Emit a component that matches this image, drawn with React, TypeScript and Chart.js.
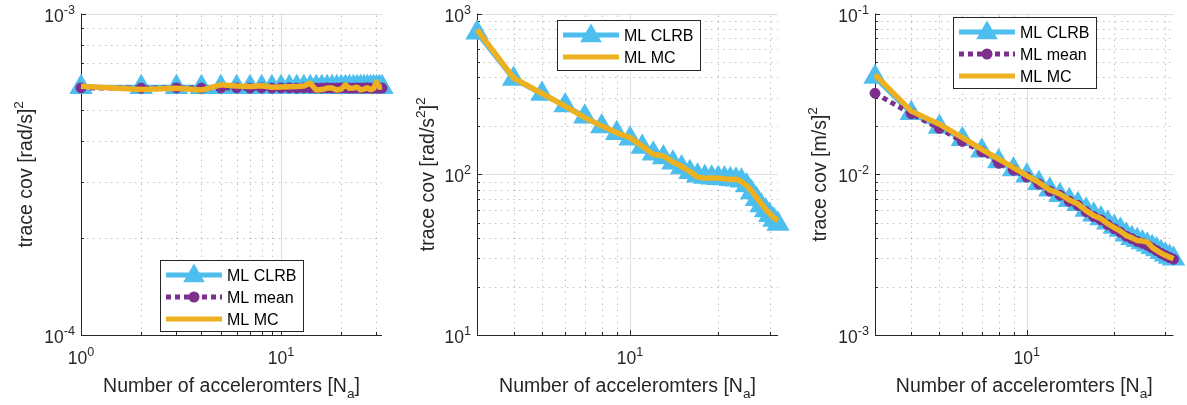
import React, { useEffect, useRef } from "react";
import { Chart, registerables } from "chart.js";

Chart.register(...registerables);

const W = 1187;
const H = 405;
const FONT = "'Liberation Sans', Arial, Helvetica, sans-serif";

// ---------- data ----------
const accelCountsAll = [1, 2, 3, 4, 5, 6, 7, 8, 9, 10, 11, 12, 13, 14, 15, 16, 17, 18, 19, 20, 21, 22, 23, 24, 25, 26, 27, 28, 29, 30, 31, 32];
const accelCountsFrom3 = [3, 4, 5, 6, 7, 8, 9, 10, 11, 12, 13, 14, 15, 16, 17, 18, 19, 20, 21, 22, 23, 24, 25, 26, 27, 28, 29, 30, 31, 32];

// panel 1: angular velocity, trace cov [rad/s]^2
const gyroClrb = [5.9e-4, 5.9e-4, 5.9e-4, 5.9e-4, 5.9e-4, 5.9e-4, 5.9e-4, 5.9e-4, 5.9e-4, 5.9e-4, 5.9e-4, 5.9e-4, 5.9e-4, 5.9e-4, 5.9e-4, 5.9e-4, 5.9e-4, 5.9e-4, 5.9e-4, 5.9e-4, 5.9e-4, 5.9e-4, 5.9e-4, 5.9e-4, 5.9e-4, 5.9e-4, 5.9e-4, 5.9e-4, 5.9e-4, 5.9e-4, 5.9e-4, 5.9e-4];
const gyroMean = [5.87e-4, 5.86e-4, 5.87e-4, 5.86e-4, 5.87e-4, 5.87e-4, 5.86e-4, 5.87e-4, 5.86e-4, 5.87e-4, 5.87e-4, 5.86e-4, 5.87e-4, 5.87e-4, 5.86e-4, 5.86e-4, 5.87e-4, 5.86e-4, 5.86e-4, 5.87e-4, 5.87e-4, 5.86e-4, 5.86e-4, 5.87e-4, 5.86e-4, 5.86e-4, 5.87e-4, 5.86e-4, 5.86e-4, 5.87e-4, 5.86e-4, 5.86e-4];
const gyroMc = [5.94e-4, 5.80e-4, 5.85e-4, 5.78e-4, 6.0e-4, 5.95e-4, 5.93e-4, 5.96e-4, 5.9e-4, 5.91e-4, 5.92e-4, 5.93e-4, 5.95e-4, 6.07e-4, 5.78e-4, 5.8e-4, 5.86e-4, 5.87e-4, 5.78e-4, 5.82e-4, 6.0e-4, 5.85e-4, 5.86e-4, 5.9e-4, 5.79e-4, 5.82e-4, 5.88e-4, 5.8e-4, 5.84e-4, 6.12e-4, 5.9e-4, 5.92e-4];

// panel 2: angular acceleration, trace cov [rad/s^2]^2
const angAccClrb = [760, 392, 316, 268, 228, 198, 180, 166, 148, 134, 127, 118, 110, 103, 98, 96, 95, 94.5, 94, 93, 92.5, 91, 85, 77, 70, 64, 59.5, 55.5, 52, 49];
const angAccMc = [793, 397, 318, 265, 225, 200, 181, 169, 150, 133, 130, 119, 112, 104, 96, 94.6, 94.8, 94.6, 93.7, 92.9, 93.5, 90, 85, 78.7, 71.8, 65.9, 60.8, 56.7, 53.6, 51.5];

// panel 3: specific force, trace cov [m/s]^2
const accClrb = [0.0402, 0.024, 0.0197, 0.0165, 0.014, 0.012, 0.0107, 0.0098, 0.0088, 0.008, 0.0074, 0.0069, 0.0065, 0.006, 0.0056, 0.0053, 0.005, 0.0047, 0.0045, 0.0042, 0.004, 0.00388, 0.00376, 0.00364, 0.00352, 0.0034, 0.00327, 0.00316, 0.00306, 0.00298];
const accMean = [0.0319, 0.0238, 0.0193, 0.016, 0.0138, 0.0117, 0.0106, 0.0096, 0.0087, 0.00785, 0.0074, 0.0068, 0.0064, 0.00585, 0.00545, 0.0052, 0.00485, 0.00458, 0.00436, 0.00412, 0.00397, 0.00382, 0.00372, 0.00362, 0.00348, 0.00334, 0.00322, 0.00312, 0.00303, 0.00296];
const accMc = [0.0417, 0.0247, 0.0205, 0.0169, 0.0143, 0.0124, 0.011, 0.0098, 0.00889, 0.00798, 0.00754, 0.00692, 0.00653, 0.00594, 0.00553, 0.00528, 0.00492, 0.00465, 0.00443, 0.00416, 0.00402, 0.00387, 0.00384, 0.00378, 0.00352, 0.00336, 0.00323, 0.00313, 0.00305, 0.00298];

// ---------- ticks / labels ----------
const p1XRange = [1, 32];
const p1YRange = [1e-4, 1e-3];
const p1XMajor = [1, 10];
const p1XMinor = [2, 3, 4, 5, 6, 7, 8, 9, 20, 30];
const p1YMajor = [1e-4, 1e-3];
const p1YMinor = [2e-4, 3e-4, 4e-4, 5e-4, 6e-4, 7e-4, 8e-4, 9e-4];
const p1XTickExps = ["0", "1"];
const p1YTickExps = ["-4", "-3"];

const p23XRange = [3, 32];
const p23XMajor = [10];
const p23XMinor = [4, 5, 6, 7, 8, 9, 20, 30];
const p23XTickExps = ["1"];

const p2YRange = [10, 1000];
const p2YMajor = [10, 100, 1000];
const p2YMinor = [20, 30, 40, 50, 60, 70, 80, 90, 200, 300, 400, 500, 600, 700, 800, 900];
const p2YTickExps = ["1", "2", "3"];

const p3YRange = [1e-3, 1e-1];
const p3YMajor = [1e-3, 1e-2, 1e-1];
const p3YMinor = [2e-3, 3e-3, 4e-3, 5e-3, 6e-3, 7e-3, 8e-3, 9e-3, 2e-2, 3e-2, 4e-2, 5e-2, 6e-2, 7e-2, 8e-2, 9e-2];
const p3YTickExps = ["-3", "-2", "-1"];

const legendNames = ["ML CLRB", "ML mean", "ML MC"];
const xTitleText = ["Number of acceleromters [N", "a", "]"];

const BLUE = "#4DBEEE";
const PURPLE = "#7E2F8E";
const ORANGE = "#EDB120";
const AXIS = "#262626";

type Seg = { t: string; s?: "sup" | "sub" };

function drawRich(ctx: CanvasRenderingContext2D, segs: Seg[], x: number, y: number, size: number, align: "left" | "center" | "right", ratio = 0.7) {
  const small = size * ratio;
  const widths = segs.map((sg) => {
    ctx.font = `${sg.s ? small : size}px ${FONT}`;
    return ctx.measureText(sg.t).width;
  });
  const total = widths.reduce((a, b) => a + b, 0);
  let cx = align === "center" ? x - total / 2 : align === "right" ? x - total : x;
  ctx.textAlign = "left";
  ctx.textBaseline = "alphabetic";
  segs.forEach((sg, i) => {
    ctx.font = `${sg.s ? small : size}px ${FONT}`;
    const dy = sg.s === "sup" ? -size * 0.45 : sg.s === "sub" ? size * 0.3 : 0;
    ctx.fillText(sg.t, cx, y + dy);
    cx += widths[i];
  });
}

function drawTriangle(ctx: CanvasRenderingContext2D, x: number, y: number, r: number) {
  ctx.beginPath();
  for (let k = 0; k < 3; k++) {
    const a = (k * 2 * Math.PI) / 3;
    const px = x + Math.sin(a) * r;
    const py = y - Math.cos(a) * r;
    if (k === 0) ctx.moveTo(px, py);
    else ctx.lineTo(px, py);
  }
  ctx.closePath();
  ctx.fill();
}

interface PanelCfg {
  area: { left: number; right: number; top: number; bottom: number };
  xRange: number[];
  yRange: number[];
  xMajor: number[];
  xMinor: number[];
  yMajor: number[];
  yMinor: number[];
  xTickVals: number[];
  xTickExps: string[];
  yTickVals: number[];
  yTickExps: string[];
  yTitle: Seg[];
  yTitleX: number;
  legend: { x: number; y: number; entries: number[] };
  xs: number[];
  clrb: number[];
  mean: number[] | null;
  mc: number[];
}

const panels: PanelCfg[] = [
  {
    area: { left: 81, right: 382, top: 12, bottom: 335 },
    xRange: p1XRange, yRange: p1YRange,
    xMajor: p1XMajor, xMinor: p1XMinor, yMajor: p1YMajor, yMinor: p1YMinor,
    xTickVals: p1XMajor, xTickExps: p1XTickExps, yTickVals: p1YMajor, yTickExps: p1YTickExps,
    yTitle: [{ t: "trace cov [rad/s]" }, { t: "2", s: "sup" }],
    yTitleX: 32,
    legend: { x: 160, y: 260, entries: [0, 1, 2] },
    xs: accelCountsAll, clrb: gyroClrb, mean: gyroMean, mc: gyroMc,
  },
  {
    area: { left: 477, right: 778, top: 12, bottom: 335 },
    xRange: p23XRange, yRange: p2YRange,
    xMajor: p23XMajor, xMinor: p23XMinor, yMajor: p2YMajor, yMinor: p2YMinor,
    xTickVals: p23XMajor, xTickExps: p23XTickExps, yTickVals: p2YMajor, yTickExps: p2YTickExps,
    yTitle: [{ t: "trace cov [rad/s" }, { t: "2", s: "sup" }, { t: "]" }, { t: "2", s: "sup" }],
    yTitleX: 433.5,
    legend: { x: 557, y: 20, entries: [0, 2] },
    xs: accelCountsFrom3, clrb: angAccClrb, mean: null, mc: angAccMc,
  },
  {
    area: { left: 875, right: 1176, top: 12, bottom: 335 },
    xRange: p23XRange, yRange: p3YRange,
    xMajor: p23XMajor, xMinor: p23XMinor, yMajor: p3YMajor, yMinor: p3YMinor,
    xTickVals: p23XMajor, xTickExps: p23XTickExps, yTickVals: p3YMajor, yTickExps: p3YTickExps,
    yTitle: [{ t: "trace cov [m/s]" }, { t: "2", s: "sup" }],
    yTitleX: 825.5,
    legend: { x: 953, y: 17, entries: [0, 1, 2] },
    xs: accelCountsFrom3, clrb: accClrb, mean: accMean, mc: accMc,
  },
];

function makePlugin(cfg: PanelCfg) {
  return {
    id: "matlabAxes",
    beforeDatasetsDraw(chart: any) {
      const ctx: CanvasRenderingContext2D = chart.ctx;
      const xs = chart.scales.x;
      const ys = chart.scales.y;
      const { left, right, top, bottom } = chart.chartArea;
      ctx.save();
      // minor grid (dotted)
      ctx.lineWidth = 1;
      ctx.strokeStyle = "rgba(60,60,60,0.32)";
      ctx.setLineDash([1.5, 4.5]);
      cfg.xMinor.forEach((v) => {
        const px = Math.round(xs.getPixelForValue(v)) + 0.5;
        if (px <= left + 1 || px > right + 1) return;
        ctx.beginPath(); ctx.moveTo(px, bottom); ctx.lineTo(px, top); ctx.stroke();
      });
      cfg.yMinor.forEach((v) => {
        const py = Math.round(ys.getPixelForValue(v)) + 0.5;
        if (py >= bottom - 1 || py < top - 1) return;
        ctx.beginPath(); ctx.moveTo(left, py); ctx.lineTo(right, py); ctx.stroke();
      });
      // major grid (solid)
      ctx.setLineDash([]);
      ctx.strokeStyle = "#DEDEDE";
      cfg.xMajor.forEach((v) => {
        const px = Math.round(xs.getPixelForValue(v)) + 0.5;
        if (px <= left + 1 || px > right + 1) return;
        ctx.beginPath(); ctx.moveTo(px, bottom); ctx.lineTo(px, top); ctx.stroke();
      });
      cfg.yMajor.forEach((v) => {
        const py = Math.round(ys.getPixelForValue(v)) + 0.5;
        if (py >= bottom - 1 || py < top - 1) return;
        ctx.beginPath(); ctx.moveTo(left, py); ctx.lineTo(right, py); ctx.stroke();
      });
      // axes
      ctx.strokeStyle = AXIS;
      ctx.lineWidth = 1;
      ctx.beginPath();
      ctx.moveTo(left + 0.5, top);
      ctx.lineTo(left + 0.5, bottom + 0.5);
      ctx.lineTo(right, bottom + 0.5);
      ctx.stroke();
      // tick marks
      const tick = (v: number, len: number, axis: "x" | "y") => {
        if (axis === "x") {
          const px = Math.round(xs.getPixelForValue(v)) + 0.5;
          ctx.beginPath(); ctx.moveTo(px, bottom); ctx.lineTo(px, bottom - len); ctx.stroke();
        } else {
          const py = Math.round(ys.getPixelForValue(v)) + 0.5;
          ctx.beginPath(); ctx.moveTo(left, py); ctx.lineTo(left + len, py); ctx.stroke();
        }
      };
      cfg.xMajor.forEach((v) => tick(v, 5, "x"));
      cfg.xMinor.forEach((v) => tick(v, 3, "x"));
      cfg.yMajor.forEach((v) => tick(v, 5, "y"));
      cfg.yMinor.forEach((v) => tick(v, 3, "y"));
      // tick labels
      ctx.fillStyle = AXIS;
      const TF = 17.5;
      cfg.yTickVals.forEach((v, i) => {
        const py = ys.getPixelForValue(v);
        drawRich(ctx, [{ t: "10" }, { t: cfg.yTickExps[i], s: "sup" }], left - 6, py + 8, TF, "right", 0.72);
      });
      cfg.xTickVals.forEach((v, i) => {
        const px = xs.getPixelForValue(v);
        drawRich(ctx, [{ t: "10" }, { t: cfg.xTickExps[i], s: "sup" }], px, bottom + 29, TF, "center", 0.72);
      });
      // axis titles
      drawRich(
        ctx,
        [{ t: xTitleText[0] }, { t: xTitleText[1], s: "sub" }, { t: xTitleText[2] }],
        (left + right) / 2,
        392,
        19.5,
        "center"
      );
      ctx.save();
      ctx.translate(cfg.yTitleX, (top + bottom) / 2);
      ctx.rotate(-Math.PI / 2);
      drawRich(ctx, cfg.yTitle, 0, 0, 19.5, "center");
      ctx.restore();
      ctx.restore();
    },
    afterDatasetsDraw(chart: any) {
      const ctx: CanvasRenderingContext2D = chart.ctx;
      const lg = cfg.legend;
      const rows = lg.entries.length;
      const w = 143;
      const h = rows === 3 ? 71 : 50;
      ctx.save();
      ctx.fillStyle = "#ffffff";
      ctx.fillRect(lg.x, lg.y, w, h);
      ctx.strokeStyle = AXIS;
      ctx.lineWidth = 1;
      ctx.strokeRect(lg.x + 0.5, lg.y + 0.5, w, h);
      lg.entries.forEach((e, i) => {
        const cy = lg.y + 15 + i * 22;
        const x1 = lg.x + 6;
        const x2 = lg.x + 62;
        const mx = (x1 + x2) / 2;
        ctx.lineWidth = 5;
        ctx.lineCap = "butt";
        if (e === 0) {
          ctx.setLineDash([]);
          ctx.strokeStyle = BLUE;
          ctx.beginPath(); ctx.moveTo(x1, cy); ctx.lineTo(x2, cy); ctx.stroke();
          ctx.fillStyle = BLUE;
          drawTriangle(ctx, mx, cy + 1, 12.5);
        } else if (e === 1) {
          ctx.setLineDash([5, 4]);
          ctx.strokeStyle = PURPLE;
          ctx.beginPath(); ctx.moveTo(x1, cy); ctx.lineTo(x2, cy); ctx.stroke();
          ctx.setLineDash([]);
          ctx.fillStyle = PURPLE;
          ctx.beginPath(); ctx.arc(mx, cy, 5.5, 0, Math.PI * 2); ctx.fill();
        } else {
          ctx.setLineDash([]);
          ctx.strokeStyle = ORANGE;
          ctx.beginPath(); ctx.moveTo(x1, cy); ctx.lineTo(x2, cy); ctx.stroke();
        }
        ctx.fillStyle = "#000000";
        ctx.font = `16px ${FONT}`;
        ctx.textAlign = "left";
        ctx.textBaseline = "alphabetic";
        ctx.fillText(legendNames[e], lg.x + 67, cy + 6);
      });
      ctx.restore();
    },
  };
}

function buildConfig(cfg: PanelCfg): any {
  const pts = (ys: number[]) => cfg.xs.map((x, i) => ({ x, y: ys[i] }));
  const datasets: any[] = [
    {
      label: legendNames[2],
      data: pts(cfg.mc),
      borderColor: ORANGE,
      borderWidth: 5.5,
      pointRadius: 0,
      borderJoinStyle: "round",
      order: 0,
      clip: false,
    },
  ];
  if (cfg.mean) {
    datasets.push({
      label: legendNames[1],
      data: pts(cfg.mean),
      borderColor: PURPLE,
      borderWidth: 5,
      borderDash: [5, 4],
      pointStyle: "circle",
      pointRadius: 5,
      pointBackgroundColor: PURPLE,
      pointBorderColor: PURPLE,
      pointBorderWidth: 1,
      order: 1,
      clip: false,
    });
  }
  datasets.push({
    label: legendNames[0],
    data: pts(cfg.clrb),
    borderColor: BLUE,
    borderWidth: 5,
    pointStyle: "triangle",
    pointRadius: 12,
    pointBackgroundColor: BLUE,
    pointBorderColor: BLUE,
    pointBorderWidth: 1.5,
    borderJoinStyle: "round",
    order: 2,
    clip: false,
  });
  return {
    type: "line",
    data: { datasets },
    options: {
      responsive: false,
      animation: false,
      devicePixelRatio: 1,
      events: [],
      layout: {
        padding: {
          left: cfg.area.left,
          right: W - cfg.area.right,
          top: cfg.area.top,
          bottom: H - cfg.area.bottom,
        },
      },
      plugins: { legend: { display: false }, tooltip: { enabled: false } },
      scales: {
        x: { type: "logarithmic", min: cfg.xRange[0], max: cfg.xRange[1], display: false },
        y: { type: "logarithmic", min: cfg.yRange[0], max: cfg.yRange[1], display: false },
      },
    },
    plugins: [makePlugin(cfg)],
  };
}

export default function App() {
  const r0 = useRef<HTMLCanvasElement>(null);
  const r1 = useRef<HTMLCanvasElement>(null);
  const r2 = useRef<HTMLCanvasElement>(null);
  const refs = [r0, r1, r2];

  useEffect(() => {
    document.body.style.margin = "0";
    const charts = panels.map((p, i) => new Chart(refs[i].current as HTMLCanvasElement, buildConfig(p)));
    return () => charts.forEach((c) => c.destroy());
  }, []);

  return (
    <div style={{ position: "relative", width: W, height: H, background: "#ffffff" }}>
      {refs.map((r, i) => (
        <canvas
          key={i}
          ref={r}
          width={W}
          height={H}
          style={{ position: "absolute", left: 0, top: 0, width: W, height: H }}
        />
      ))}
    </div>
  );
}
